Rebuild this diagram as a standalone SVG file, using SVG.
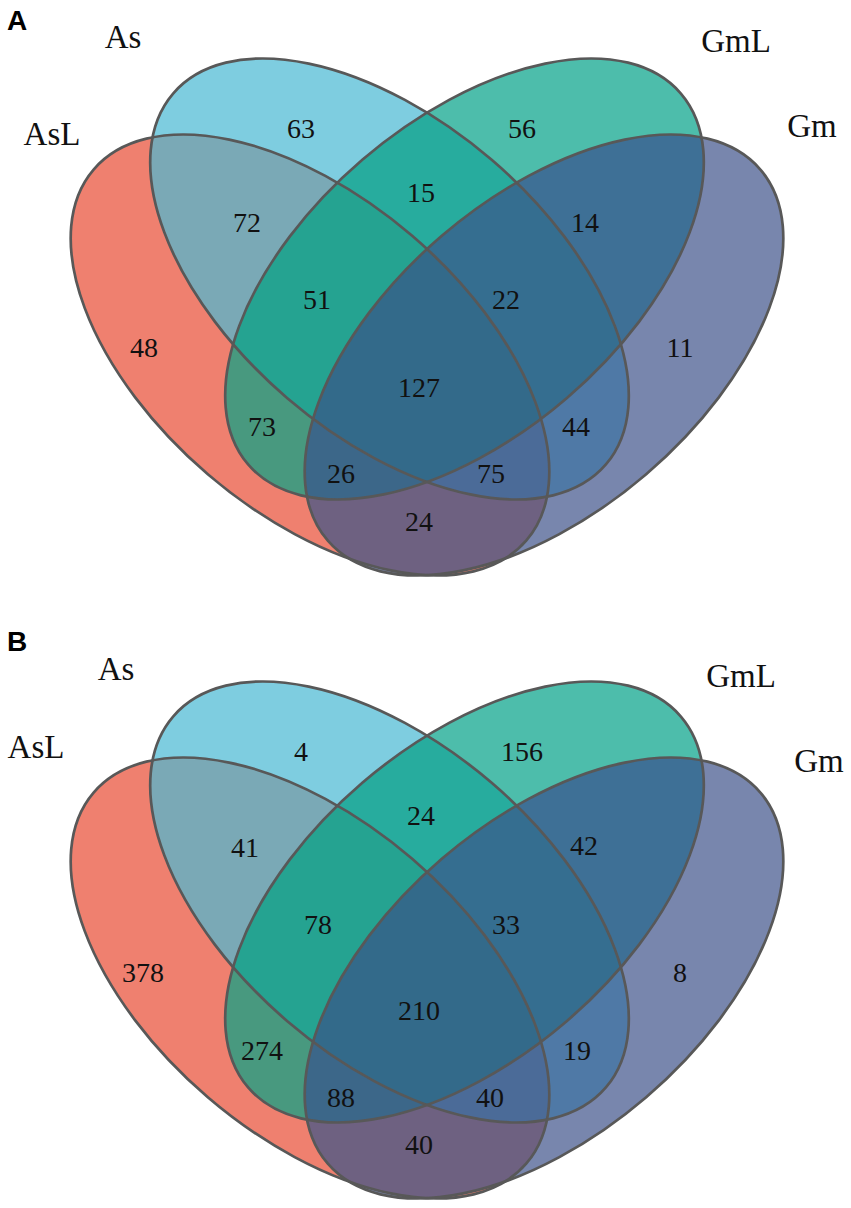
<svg xmlns="http://www.w3.org/2000/svg" width="851" height="1208" viewBox="0 0 851 1208">
<style>
.num{font-family:"Liberation Serif","Times New Roman",serif;font-size:28px;text-anchor:middle;fill:#111}
.set{font-family:"Liberation Serif","Times New Roman",serif;font-size:33px;text-anchor:middle;fill:#111}
.panel{font-family:"Liberation Sans",Arial,sans-serif;font-size:28px;font-weight:bold;fill:#000}
.edge{fill:none;stroke:#585858;stroke-width:2.7}
</style>
<defs>
<ellipse id="eR" rx="285" ry="157" transform="translate(310 355) rotate(40.6)"/>
<ellipse id="eB" rx="285" ry="157" transform="translate(389.5 279) rotate(40.6)"/>
<ellipse id="eG" rx="285" ry="157" transform="translate(464.5 279) rotate(-40.6)"/>
<ellipse id="eP" rx="285" ry="157" transform="translate(544 355) rotate(-40.6)"/>
<clipPath id="cR"><use href="#eR"/></clipPath>
<clipPath id="cB"><use href="#eB"/></clipPath>
<clipPath id="cG"><use href="#eG"/></clipPath>
<g id="venn">
  <use href="#eR" fill="#ef806f"/>
  <use href="#eB" fill="#7ecde0"/>
  <use href="#eG" fill="#4dbdab"/>
  <use href="#eP" fill="#7886ad"/>
  <g clip-path="url(#cR)"><use href="#eB" fill="#7aa9b6"/><use href="#eG" fill="#48997f"/><use href="#eP" fill="#6e6181"/></g>
  <g clip-path="url(#cB)"><use href="#eG" fill="#27ac9e"/><use href="#eP" fill="#4f79a6"/></g>
  <g clip-path="url(#cG)"><use href="#eP" fill="#3e7096"/></g>
  <g clip-path="url(#cR)">
    <g clip-path="url(#cB)"><use href="#eG" fill="#25a391"/><use href="#eP" fill="#4b6b98"/></g>
    <g clip-path="url(#cG)"><use href="#eP" fill="#3c6789"/></g>
  </g>
  <g clip-path="url(#cB)"><g clip-path="url(#cG)"><use href="#eP" fill="#356e90"/></g></g>
  <g clip-path="url(#cR)"><g clip-path="url(#cB)"><g clip-path="url(#cG)"><use href="#eP" fill="#336a8a"/></g></g></g>
  <use href="#eR" class="edge"/>
  <use href="#eB" class="edge"/>
  <use href="#eG" class="edge"/>
  <use href="#eP" class="edge"/>
</g>
</defs>

<g id="panelA">
  <text class="panel" x="7" y="30">A</text>
  <g id="A-sets"><use href="#venn"/></g>
  <g id="A-setlabels">
    <text class="set" x="123" y="48">As</text>
    <text class="set" x="52" y="145">AsL</text>
    <text class="set" x="736" y="52">GmL</text>
    <text class="set" x="812" y="137">Gm</text>
  </g>
  <g id="A-counts">
    <text class="num" x="301" y="138">63</text>
    <text class="num" x="522" y="138">56</text>
    <text class="num" x="247" y="232">72</text>
    <text class="num" x="421" y="202">15</text>
    <text class="num" x="585" y="232">14</text>
    <text class="num" x="317" y="309">51</text>
    <text class="num" x="506" y="309">22</text>
    <text class="num" x="144" y="357">48</text>
    <text class="num" x="419" y="397">127</text>
    <text class="num" x="680" y="357">11</text>
    <text class="num" x="262" y="436">73</text>
    <text class="num" x="576" y="436">44</text>
    <text class="num" x="341" y="483">26</text>
    <text class="num" x="491" y="483">75</text>
    <text class="num" x="419" y="531">24</text>
  </g>
</g>

<g id="panelB">
  <text class="panel" x="7" y="651">B</text>
  <g id="B-sets"><use href="#venn" transform="translate(0 623)"/></g>
  <g id="B-setlabels">
    <text class="set" x="116" y="680">As</text>
    <text class="set" x="36" y="758">AsL</text>
    <text class="set" x="741" y="687">GmL</text>
    <text class="set" x="819" y="772">Gm</text>
  </g>
  <g id="B-counts">
    <text class="num" x="301" y="761">4</text>
    <text class="num" x="522" y="761">156</text>
    <text class="num" x="245" y="857">41</text>
    <text class="num" x="421" y="825">24</text>
    <text class="num" x="584" y="855">42</text>
    <text class="num" x="318" y="934">78</text>
    <text class="num" x="506" y="934">33</text>
    <text class="num" x="143" y="982">378</text>
    <text class="num" x="419" y="1020">210</text>
    <text class="num" x="680" y="982">8</text>
    <text class="num" x="262" y="1060">274</text>
    <text class="num" x="577" y="1060">19</text>
    <text class="num" x="341" y="1107">88</text>
    <text class="num" x="490" y="1107">40</text>
    <text class="num" x="419" y="1154">40</text>
  </g>
</g>
</svg>
